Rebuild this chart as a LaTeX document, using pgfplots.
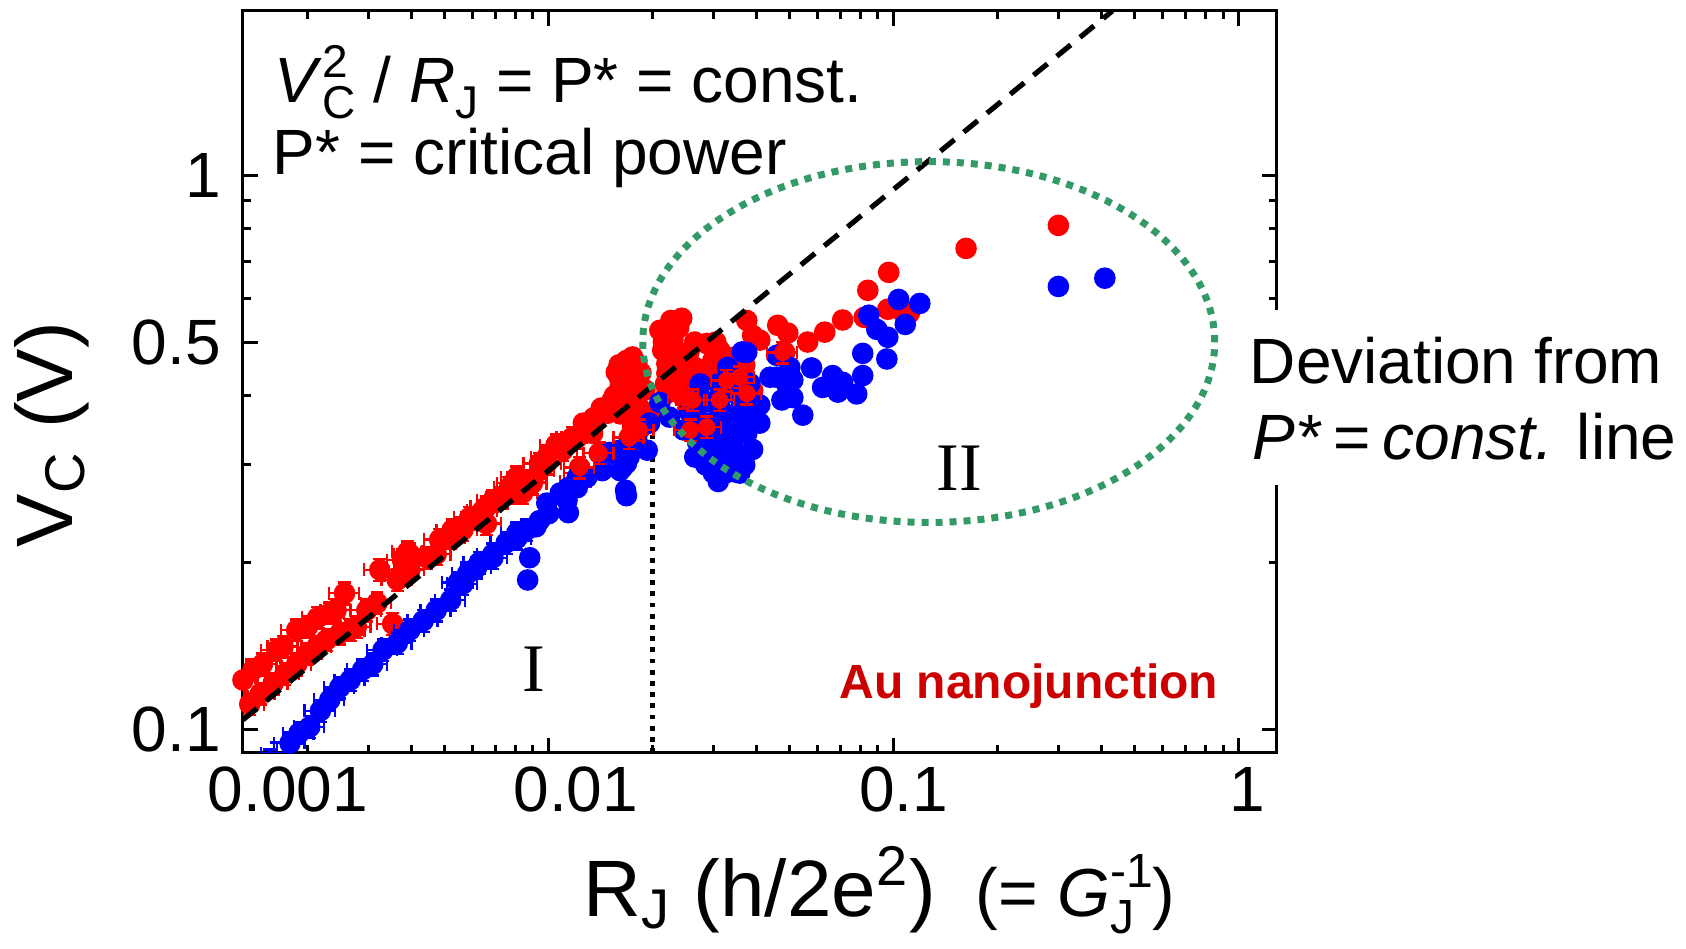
\documentclass[border=0pt]{standalone}
\usepackage{fontspec}
\setmainfont{Liberation Sans}
\newfontfamily\seriffont{Liberation Serif}
\usepackage{pgfplots}
\usepackage{pgfplotstable}
\pgfplotsset{compat=1.18}

\definecolor{ellgreen}{RGB}{51,153,102}
\definecolor{aured}{RGB}{204,0,0}

% red: points with error bars (low R_J)
\pgfplotstableread{
x y
0.0013 0.1227
0.00139 0.128
0.00148 0.131
0.00163 0.139
0.0017 0.141
0.00186 0.151
0.002 0.153
0.00214 0.159
0.00232 0.162
0.00242 0.164
0.00256 0.176
0.00136 0.111
0.00146 0.116
0.00159 0.121
0.00172 0.126
0.00186 0.131
0.002 0.137
0.00213 0.141
0.00227 0.145
0.00248 0.149
0.00266 0.151
0.00277 0.153
0.00297 0.164
0.00318 0.169
0.00353 0.155
0.00324 0.194
0.00377 0.202
0.0039 0.209
0.00364 0.186
0.00396 0.194
0.00396 0.207
0.00443 0.204
0.00472 0.207
0.00483 0.22
0.0052 0.222
0.00525 0.229
0.00564 0.229
0.0059 0.241
0.00618 0.241
0.00643 0.248
0.0066 0.252
0.0066 0.235
0.00689 0.259
0.00733 0.262
0.0077 0.273
0.00786 0.278
0.00808 0.285
0.00808 0.267
0.0084 0.267
0.00896 0.278
0.0094 0.293
0.0094 0.302
0.00987 0.302
0.00987 0.31
0.0105 0.326
0.011 0.319
0.0117 0.336
0.0121 0.336
0.0123 0.29
0.012 0.28
}\redErr

% red: points without error bars
\pgfplotstableread{
x y
0.0126 0.357
0.0127 0.351
0.0134 0.342
0.0135 0.365
0.0142 0.38
0.0148 0.372
0.0153 0.393
0.0155 0.40
0.0157 0.441
0.016 0.455
0.0161 0.414
0.0161 0.371
0.0161 0.426
0.0165 0.39
0.0168 0.463
0.0168 0.45
0.017 0.43
0.0171 0.409
0.0174 0.448
0.0175 0.47
0.0175 0.351
0.018 0.366
0.018 0.457
0.0183 0.381
0.0185 0.44
0.019 0.41
0.0195 0.37
0.021 0.525
0.0214 0.483
0.0215 0.50
0.0218 0.42
0.022 0.439
0.022 0.404
0.022 0.51
0.022 0.457
0.0224 0.532
0.0224 0.469
0.0226 0.547
0.0229 0.504
0.0229 0.421
0.0232 0.485
0.0232 0.445
0.0236 0.426
0.0238 0.53
0.0243 0.552
0.0245 0.46
0.0251 0.409
0.0251 0.437
0.0255 0.48
0.0265 0.45
0.0265 0.50
0.027 0.41
0.0279 0.427
0.0287 0.497
0.0295 0.44
0.0299 0.463
0.0305 0.50
0.0313 0.483
0.0325 0.45
0.0341 0.469
0.037 0.454
0.0375 0.547
0.039 0.514
0.039 0.409
0.0409 0.504
0.0461 0.536
0.0483 0.479
0.0493 0.519
0.0563 0.5
0.0631 0.521
0.0711 0.548
0.0821 0.554
0.0841 0.62
0.0967 0.668
0.0961 0.573
0.105 0.57
0.111 0.564
0.162 0.738
0.3 0.812
}\redPlain

% red: points whose error bars show over the blue cloud
\pgfplotstableread{
x y
0.0261 0.393
0.0287 0.351
0.0313 0.393
0.0328 0.426
0.0358 0.432
0.0375 0.404
0.0246 0.397
0.0257 0.347
0.0171 0.336
0.0183 0.347
0.0123 0.297
0.014 0.315
0.0477 0.479
}\redCross

% blue: points with error bars
\pgfplotstableread{
x y
0.00155 0.088
0.00163 0.0905
0.00178 0.0944
0.00189 0.0984
0.00203 0.101
0.00218 0.108
0.00232 0.113
0.00248 0.119
0.00266 0.1227
0.00289 0.128
0.00309 0.131
0.00331 0.139
0.00364 0.143
0.00396 0.151
0.00433 0.157
0.00472 0.164
0.0052 0.171
0.00546 0.184
0.00564 0.183
0.00582 0.191
0.00618 0.196
0.0063 0.2
0.00689 0.204
0.00689 0.207
0.00753 0.217
0.00808 0.226
0.00808 0.221
0.00863 0.229
}\blueErr

% blue: points without error bars
\pgfplotstableread{
x y
0.00881 0.204
0.00869 0.186
0.00918 0.232
0.0094 0.238
0.00987 0.256
0.01 0.245
0.0108 0.267
0.0113 0.259
0.0114 0.273
0.0114 0.246
0.0121 0.273
0.0121 0.285
0.0129 0.285
0.0143 0.293
0.015 0.316
0.0153 0.315
0.0161 0.293
0.0161 0.319
0.0164 0.297
0.0167 0.27
0.0168 0.302
0.0168 0.264
0.0171 0.31
0.018 0.332
0.0193 0.319
0.0196 0.357
0.021 0.389
0.0224 0.366
0.0246 0.347
0.0255 0.375
0.026 0.40
0.0265 0.31
0.027 0.33
0.0269 0.366
0.0275 0.35
0.0275 0.42
0.0285 0.32
0.0285 0.30
0.029 0.39
0.0294 0.357
0.03 0.34
0.03 0.29
0.0305 0.31
0.031 0.28
0.031 0.42
0.0313 0.381
0.0313 0.302
0.0315 0.33
0.032 0.36
0.0325 0.29
0.0328 0.31
0.033 0.45
0.0335 0.35
0.0341 0.328
0.0345 0.37
0.0345 0.41
0.035 0.291
0.0355 0.31
0.0358 0.397
0.0358 0.29
0.0364 0.48
0.0365 0.355
0.037 0.30
0.0375 0.342
0.0375 0.479
0.038 0.37
0.0383 0.421
0.039 0.32
0.0409 0.385
0.0409 0.357
0.0438 0.432
0.0458 0.473
0.0458 0.432
0.0474 0.393
0.05 0.45
0.0493 0.414
0.051 0.427
0.051 0.397
0.0545 0.369
0.0578 0.449
0.0622 0.414
0.0665 0.435
0.0689 0.406
0.0711 0.423
0.0781 0.403
0.0813 0.477
0.0813 0.435
0.0847 0.559
0.0893 0.527
0.0955 0.466
0.0961 0.51
0.1033 0.597
0.108 0.538
0.119 0.587
0.3 0.63
0.409 0.652
}\bluePlain

\pgfplotsset{
  dots/.style={only marks, mark=*, mark size=2.5pt},
  bars/.style={
    /pgfplots/error bars/x dir=both,
    /pgfplots/error bars/x fixed relative=0.1,
    /pgfplots/error bars/y dir=both,
    /pgfplots/error bars/y fixed relative=0.045,
    /pgfplots/error bars/error bar style={line width=0.6pt},
    /pgfplots/error bars/error mark options={rotate=90, mark size=1.6pt, line width=0.6pt}},
}

\begin{document}
\begin{tikzpicture}
\begin{axis}[
    scale only axis,
    width=258.5pt, height=185.5pt,
    xmode=log, ymode=log,
    xmin=0.0013, xmax=1.29, ymin=0.0906, ymax=1.98,
    xtick={0.01,0.1,1},
    xticklabels={{\hspace*{13.5pt}0.01},{\hspace*{5pt}0.1},{\hspace*{4pt}1}},
    minor xtick={0.002,0.003,0.004,0.005,0.006,0.007,0.008,0.009,
                 0.02,0.03,0.04,0.05,0.06,0.07,0.08,0.09,
                 0.2,0.3,0.4,0.5,0.6,0.7,0.8,0.9},
    ytick={0.1,0.5,1}, yticklabels={0.1,0.5,1},
    minor ytick={0.2,0.3,0.4,0.6,0.7,0.8,0.9},
    tick align=inside,
    major tick length=3.75pt, minor tick length=2pt,
    axis line style={line width=0.75pt},
    every tick/.style={black, line width=0.75pt},
    tick label style={font=\fontsize{16}{19}\selectfont},
    yticklabel style={xshift=-2pt},
    clip mode=individual,
    xlabel={R\textsubscript{J} (h/2e\textsuperscript{2})\hspace{0.5em}{\fontsize{17}{20}\selectfont (= \textit{G}\rlap{\raisebox{-0.25em}{\fontsize{12}{12}\selectfont J}}\raisebox{0.42em}{\fontsize{12}{12}\selectfont -1})}},
    xlabel style={font=\fontsize{20}{24}\selectfont, at={(axis description cs:0.316,-0.2197)}, anchor=base west},
    ylabel={V\textsubscript{C} (V)},
    ylabel style={font=\fontsize{20}{24}\selectfont, at={(axis description cs:-0.185,0.429)}, anchor=center},
]
\coordinate (SW) at (rel axis cs:0,0);
\coordinate (Wlo) at (rel axis cs:1,0.361);
\coordinate (Whi) at (rel axis cs:1,0.597);

\addplot[black, line width=1.2pt, dash pattern=on 1.2pt off 1.6pt, forget plot]
  coordinates {(0.02,0.0906) (0.02,0.39)};

\addplot[dots, red, bars] table {\redErr};
\addplot[dots, red] table {\redPlain};
\addplot[dots, red] table {\redCross};
\addplot[dots, blue, bars] table {\blueErr};
\addplot[dots, blue] table {\bluePlain};
\addplot[only marks, mark=none, red, bars] table {\redCross};

\addplot[black, line width=1.3pt, dash pattern=on 4.5pt off 3pt]
  coordinates {(0.0013,0.104) (0.43,1.98)};

\draw[ellgreen, line width=1.75pt, dash pattern=on 1.75pt off 1.75pt]
  (axis cs:0.1263,0.5) ellipse [x radius=71.5pt, y radius=45.1pt];

\node[anchor=north, font=\fontsize{16}{19}\selectfont, inner sep=0.3333em]
  at (rel axis cs:0.0435,0) {0.001};

\node[anchor=base west, font=\fontsize{16}{19}\selectfont, inner sep=0pt]
  at (rel axis cs:0.030,0.877)
  {\textit{V}\rlap{\raisebox{0.38em}{\fontsize{11.5}{11.5}\selectfont 2}}\raisebox{-0.26em}{\fontsize{11.5}{11.5}\selectfont C} / \textit{R}\raisebox{-0.26em}{\fontsize{11.5}{11.5}\selectfont J} = P* = const.};
\node[anchor=base west, font=\fontsize{16}{19}\selectfont, inner sep=0pt]
  at (rel axis cs:0.028,0.779) {P* = critical power};

\node[font=\seriffont\fontsize{17}{20}\selectfont] at (rel axis cs:0.281,0.113) {I};
\node[font=\seriffont\fontsize{17}{20}\selectfont] at (rel axis cs:0.693,0.384) {II};
\node[font=\bfseries\fontsize{12}{14}\selectfont, text=aured] at (rel axis cs:0.760,0.090) {Au nanojunction};
\end{axis}

\fill[white] ([xshift=-4pt]Wlo) rectangle ([xshift=4pt]Whi);
\node[anchor=base west, font=\fontsize{16}{19}\selectfont, inner sep=0pt]
  at ([shift={(251.5pt,92.25pt)}]SW) {Deviation from};
\node[anchor=base west, font=\fontsize{16}{19}\selectfont, inner sep=0pt]
  at ([shift={(252.25pt,73.25pt)}]SW) {\textit{P*}\hspace{0.18em}=\hspace{0.18em}\textit{const.} line};

\pgfresetboundingbox
\path[use as bounding box] ([shift={(-60.75pt,-49pt)}]SW) rectangle ([shift={(360.75pt,188.25pt)}]SW);
\end{tikzpicture}
\end{document}
